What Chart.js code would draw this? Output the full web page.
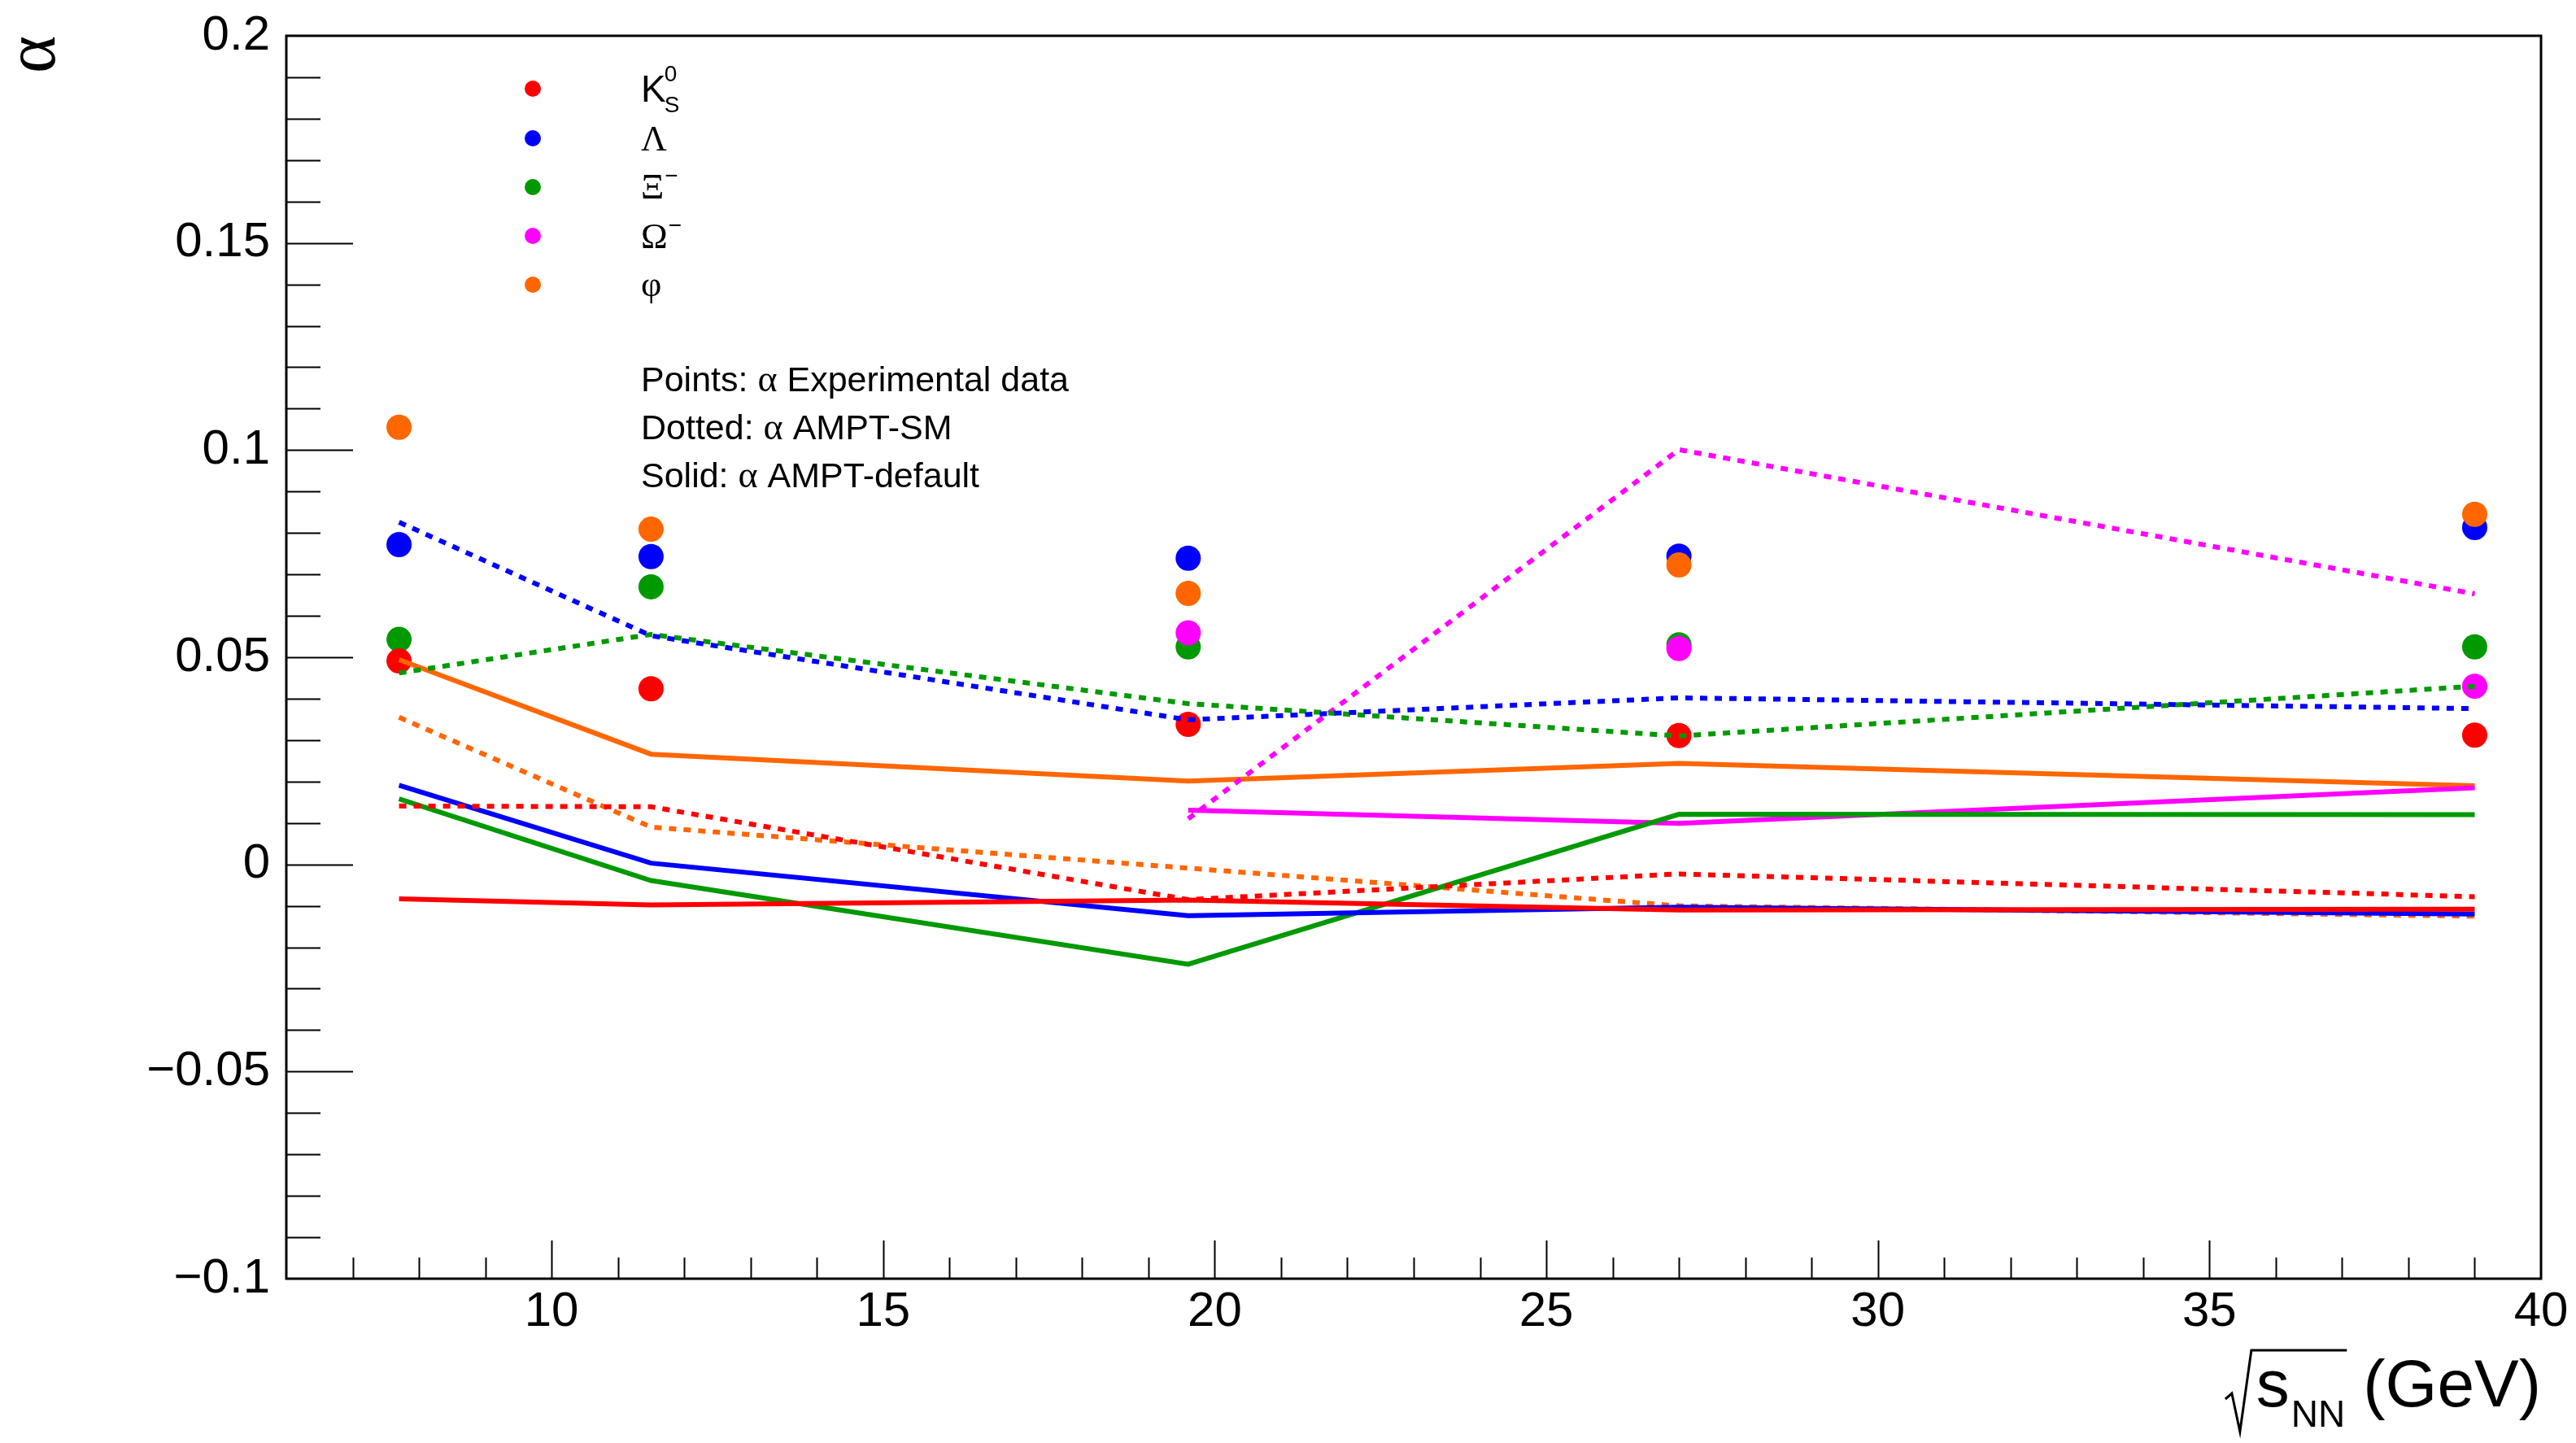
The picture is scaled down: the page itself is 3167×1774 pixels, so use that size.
<!DOCTYPE html>
<html lang="en">
<head>
<meta charset="utf-8" />
<title>alpha vs collision energy</title>
<script src="https://cdn.jsdelivr.net/npm/chart.js@4.4.1/dist/chart.umd.min.js"></script>
<style>
  html, body { margin: 0; padding: 0; background: #fff; }
  #wrap { width: 3167px; height: 1774px; }
</style>
</head>
<body>
<div id="wrap"><canvas id="myChart"></canvas></div>
<script>
// collision energies, sqrt(sNN) in GeV
var energies = [7.7, 11.5, 19.6, 27, 39];

// species: name, superscript, subscript
var species = ["K", "Λ", "Ξ", "Ω", "φ"];
var speciesSup = ["0", "", "−", "−", ""];
var speciesSub = ["S", "", "", "", ""];

// points: experimental data
var expK0s = [0.0491, 0.0424, 0.0338, 0.0311, 0.0312];
var expLambda = [0.0772, 0.0743, 0.0739, 0.0744, 0.0813];
var expXi = [0.0543, 0.0670, 0.0525, 0.0530, 0.0525];
var expOmega = [null, null, 0.0559, 0.0521, 0.0430];
var expPhi = [0.1055, 0.0809, 0.0654, 0.0723, 0.0845];

// dotted: AMPT-SM
var smK0s = [0.0141, 0.0139, -0.0085, -0.0023, -0.0078];
var smLambda = [0.0826, 0.0552, 0.0349, 0.0402, 0.0376];
var smXi = [0.0462, 0.0555, 0.0388, 0.0310, 0.0430];
var smOmega = [null, null, 0.0110, 0.1001, 0.0653];
var smPhi = [0.0355, 0.0090, -0.0009, -0.0100, -0.0125];

// solid: AMPT-default
var defK0s = [-0.0083, -0.0098, -0.0086, -0.0110, -0.0108];
var defLambda = [0.0191, 0.0003, -0.0124, -0.0103, -0.0120];
var defXi = [0.0158, -0.0039, -0.0241, 0.0121, 0.0120];
var defOmega = [null, null, 0.0131, 0.0099, 0.0185];
var defPhi = [0.0494, 0.0266, 0.0201, 0.0244, 0.0190];

var xTicks = [10, 15, 20, 25, 30, 35, 40];
var yTicks = [-0.1, -0.05, 0, 0.05, 0.1, 0.15, 0.2];
var yTickLabels = ["−0.1", "−0.05", "0", "0.05", "0.1", "0.15", "0.2"];
var notes = ["Points: α Experimental data", "Dotted: α AMPT-SM", "Solid: α AMPT-default"];

var expAll = [expK0s, expLambda, expXi, expOmega, expPhi];
var smAll = [smK0s, smLambda, smXi, smOmega, smPhi];
var defAll = [defK0s, defLambda, defXi, defOmega, defPhi];

var colors = ["#ff0000", "#0000ff", "#009900", "#ff00ff", "#ff6600"];
var pointOrder = [3, 5, 4, 2, 1]; // higher is drawn first

var SANS = "'Liberation Sans', Arial, sans-serif";
var SERIF = "'Liberation Serif', 'Times New Roman', serif";

function toXY(ys) {
	var out = [];
	for (var i = 0; i < energies.length; i++) {
		if (ys[i] !== null) out.push({ x: energies[i], y: ys[i] });
	}
	return out;
}

var datasets = [];
for (var s = 0; s < species.length; s++) {
	datasets.push({
		label: species[s] + " data",
		data: toXY(expAll[s]),
		showLine: false,
		pointRadius: 15.5,
		pointBackgroundColor: colors[s],
		pointBorderColor: colors[s],
		pointBorderWidth: 0,
		order: pointOrder[s]
	});
	datasets.push({
		label: species[s] + " AMPT-SM",
		data: toXY(smAll[s]),
		showLine: true,
		borderColor: colors[s],
		borderWidth: 6,
		borderDash: [9, 9],
		pointRadius: 0,
		order: 0
	});
	datasets.push({
		label: species[s] + " AMPT-default",
		data: toXY(defAll[s]),
		showLine: true,
		borderColor: colors[s],
		borderWidth: 6,
		pointRadius: 0,
		order: 0
	});
}

// ROOT style frame with inside ticks
var frameTicks = {
	id: "frameTicks",
	afterDraw: function (chart) {
		var ctx = chart.ctx, a = chart.chartArea;
		var xs = chart.scales.x, ys = chart.scales.y;
		ctx.save();
		ctx.strokeStyle = "#000";
		ctx.lineWidth = 2;
		ctx.beginPath();
		for (var v = 7; v < 40; v++) {
			var px = Math.round(xs.getPixelForValue(v)) + 0.5;
			var len = v % 5 === 0 ? 47 : 26;
			ctx.moveTo(px, a.bottom);
			ctx.lineTo(px, a.bottom - len);
		}
		for (var k = -9; k < 20; k++) {
			var py = Math.round(ys.getPixelForValue(k / 100)) + 0.5;
			var l = k % 5 === 0 ? 82 : 42;
			ctx.moveTo(a.left, py);
			ctx.lineTo(a.left + l, py);
		}
		ctx.stroke();
		ctx.lineWidth = 3;
		ctx.strokeRect(a.left, a.top, a.right - a.left, a.bottom - a.top);
		ctx.restore();
	}
};

// legend and notes, drawn by hand for the sub/superscripts
var legendBox = {
	id: "legendBox",
	afterDraw: function (chart) {
		var ctx = chart.ctx;
		var rows = [109, 170, 230, 290, 350];
		var base = [125, 185, 244, 305, 364];
		ctx.save();
		ctx.fillStyle = "#000";
		ctx.textBaseline = "alphabetic";
		for (var i = 0; i < species.length; i++) {
			ctx.fillStyle = colors[i];
			ctx.beginPath();
			ctx.arc(655, rows[i], 10, 0, Math.PI * 2);
			ctx.fill();
			ctx.fillStyle = "#000";
			var x = 788;
			ctx.font = i === 0 ? "46px " + SANS : "44px " + SERIF;
			ctx.fillText(species[i], x, base[i]);
			var w = ctx.measureText(species[i]).width;
			ctx.font = "28px " + SANS;
			if (speciesSup[i] === "0") ctx.fillText(speciesSup[i], x + w - 2, base[i] - 25);
			else if (speciesSup[i]) ctx.fillText(speciesSup[i], x + w + 1, base[i] - 19);
			if (speciesSub[i]) ctx.fillText(speciesSub[i], x + w - 2, base[i] + 13);
		}
		var nb = [481, 540, 599];
		for (var j = 0; j < notes.length; j++) {
			var parts = notes[j].split("α");
			var nx = 788;
			ctx.font = "43px " + SANS;
			ctx.fillText(parts[0], nx, nb[j]);
			nx += ctx.measureText(parts[0]).width;
			ctx.font = "46px " + SERIF;
			ctx.fillText("α", nx, nb[j]);
			nx += ctx.measureText("α").width;
			ctx.font = "43px " + SANS;
			ctx.fillText(parts[1], nx, nb[j]);
		}
		ctx.restore();
	}
};

// x axis title: sqrt(s_NN) (GeV)
var xTitle = {
	id: "xTitle",
	afterDraw: function (chart) {
		var ctx = chart.ctx, a = chart.chartArea;
		ctx.save();
		ctx.fillStyle = "#000";
		ctx.strokeStyle = "#000";
		ctx.textBaseline = "alphabetic";
		ctx.font = "82px " + SANS;
		var wG = ctx.measureText("(GeV)").width;
		var xG = a.right - wG;
		ctx.fillText("(GeV)", xG, 1729);
		ctx.font = "46px " + SANS;
		var wN = ctx.measureText("NN").width;
		var xN = xG - 22 - wN;
		ctx.fillText("NN", xN, 1754);
		ctx.font = "82px " + SANS;
		var wS = ctx.measureText("s").width;
		var xS = xN - 2 - wS;
		ctx.fillText("s", xS, 1729);
		var r0 = xS - 6;
		ctx.lineWidth = 3;
		ctx.beginPath();
		ctx.moveTo(r0 - 32, 1720);
		ctx.lineTo(r0 - 24, 1713);
		ctx.lineTo(r0 - 14, 1760);
		ctx.lineTo(r0, 1660);
		ctx.lineTo(xN + wN + 2, 1660);
		ctx.stroke();
		ctx.restore();
	}
};

var ctx = document.getElementById("myChart").getContext("2d");
var myChart = new Chart(ctx, {
	type: "scatter",
	data: { datasets: datasets },
	options: {
		responsive: true,
		maintainAspectRatio: false,
		devicePixelRatio: 1,
		animation: false,
		layout: { padding: { left: 0, right: 43, top: 44, bottom: 0 } },
		elements: { line: { tension: 0 } },
		plugins: { legend: { display: false }, tooltip: { enabled: false } },
		scales: {
			x: {
				type: "linear",
				min: 6,
				max: 40,
				grid: { display: false, drawTicks: false },
				border: { display: false },
				afterBuildTicks: function (scale) {
					scale.ticks = xTicks.map(function (v) { return { value: v }; });
				},
				afterFit: function (scale) {
					scale.height = 202;
					scale.paddingLeft = 0;
					scale.paddingRight = 0;
				},
				ticks: {
					autoSkip: false,
					maxRotation: 0,
					padding: 5,
					color: "#000",
					font: { family: SANS, size: 60 }
				}
			},
			y: {
				type: "linear",
				min: -0.1,
				max: 0.2,
				grid: { display: false, drawTicks: false },
				border: { display: false },
				afterBuildTicks: function (scale) {
					scale.ticks = yTicks.map(function (v) { return { value: v }; });
				},
				afterFit: function (scale) {
					scale.width = 352;
					scale.paddingTop = 0;
					scale.paddingBottom = 0;
				},
				ticks: {
					autoSkip: false,
					padding: 20,
					color: "#000",
					font: { family: SANS, size: 60 },
					callback: function (value, index) { return yTickLabels[index]; }
				},
				title: {
					display: true,
					text: "α",
					align: "end",
					color: "#000",
					padding: 0,
					font: { family: SERIF, size: 88, lineHeight: 1 }
				}
			}
		}
	},
	plugins: [frameTicks, legendBox, xTitle]
});
</script>
</body>
</html>
